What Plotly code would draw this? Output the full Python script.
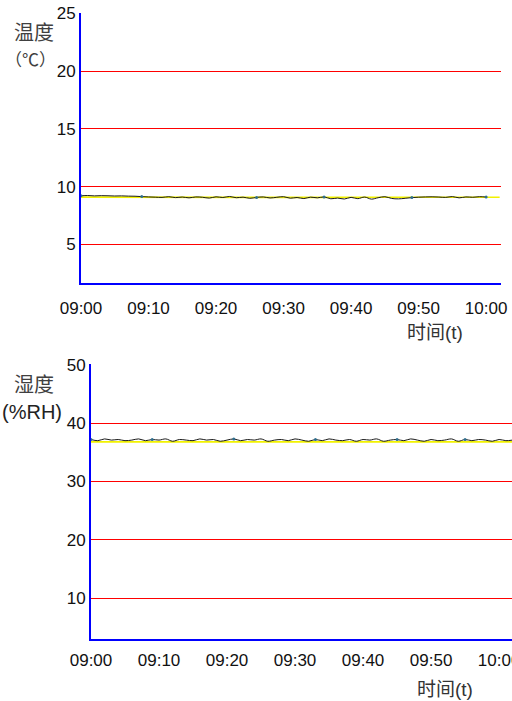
import plotly.graph_objects as go
import pandas as pd

# ---------------- data ----------------
temp_black = [9.22, 9.24, 9.21, 9.23, 9.22, 9.20, 9.21, 9.19, 9.18, 9.15,
              9.12, 9.10, 9.08, 9.14, 9.06, 9.11, 9.04, 9.12, 9.09, 9.02,
              9.13, 9.07, 9.16, 9.05, 9.10, 9.00, 9.08, 9.12, 9.03, 9.09,
              9.14, 9.01, 9.07, 8.98, 9.10, 9.04, 9.12, 8.96, 9.02, 8.94,
              9.08, 8.97, 9.11, 8.93, 9.05, 9.14, 8.99, 8.95, 9.00, 9.06,
              9.10, 9.12, 9.13, 9.11, 9.08, 9.15, 9.04, 9.12, 9.09, 9.14,
              9.11]
temp_yellow = [9.10, 9.09, 9.08, 9.08, 9.07, 9.07, 9.08, 9.08, 9.09, 9.09,
               9.10, 9.10, 9.09, 9.09]
temp_yellow_min = [0, 5, 10, 15, 20, 25, 30, 35, 40, 45, 50, 55, 60, 62]

hum_black = [37.2, 37.0, 37.3, 37.1, 37.2, 37.0, 37.1, 37.3, 37.0, 37.2,
             37.1, 37.3, 36.9, 37.2, 37.1, 37.0, 37.3, 37.1, 37.2, 36.9,
             37.1, 37.3, 37.0, 37.2, 37.1, 37.3, 36.9, 37.1, 37.2, 37.0,
             37.3, 37.1, 36.9, 37.2, 37.0, 37.3, 37.1, 37.0, 37.2, 36.9,
             37.2, 37.1, 37.3, 36.9, 37.1, 37.2, 37.0, 37.3, 37.1, 36.9,
             37.2, 37.0, 37.1, 37.3, 36.9, 37.2, 37.0, 37.2, 37.1, 36.9,
             37.2, 37.0, 37.1]
hum_yellow = [36.8, 36.8, 36.8, 36.7, 36.8, 36.8, 36.8, 36.7, 36.8, 36.8,
              36.8, 36.8, 36.8, 36.8]
hum_yellow_min = [0, 5, 10, 15, 20, 25, 30, 35, 40, 45, 50, 55, 60, 62]

temp_marker_idx = [0, 9, 26, 36, 49, 60]
hum_marker_idx = [0, 9, 21, 33, 45, 55]

temp_ticks = [5, 10, 15, 20, 25]
hum_ticks = [10, 20, 30, 40, 50]
time_ticks = ["09:00", "09:10", "09:20", "09:30", "09:40", "09:50", "10:00"]

# ---------------- helpers ----------------
DAY = "2020-01-01 "
start = pd.Timestamp(DAY + "09:00")
def minutes(m):
    return [start + pd.Timedelta(minutes=v) for v in m]

W, H = 512, 701
def px(x):
    return x / W
def py(y):
    return 1 - y / H

t_black = minutes(range(len(temp_black)))
h_black = minutes(range(len(hum_black)))
tick_vals = [pd.Timestamp(DAY + t) for t in time_ticks]

fig = go.Figure()

YELLOW = "#f2f200"
BLACK = "#1a1a1a"
TEAL = "#2f6f8f"

# top chart
fig.add_trace(go.Scatter(x=minutes(temp_yellow_min), y=temp_yellow, mode="lines",
                         line=dict(color=YELLOW, width=1.6), xaxis="x", yaxis="y",
                         hoverinfo="skip"))
fig.add_trace(go.Scatter(x=t_black, y=temp_black, mode="lines",
                         line=dict(color=BLACK, width=1, shape="spline"),
                         xaxis="x", yaxis="y"))
fig.add_trace(go.Scatter(x=[t_black[i] for i in temp_marker_idx],
                         y=[temp_black[i] for i in temp_marker_idx], mode="markers",
                         marker=dict(color=TEAL, size=3), xaxis="x", yaxis="y"))

# bottom chart
fig.add_trace(go.Scatter(x=minutes(hum_yellow_min), y=hum_yellow, mode="lines",
                         line=dict(color=YELLOW, width=1.6), xaxis="x2", yaxis="y2",
                         hoverinfo="skip"))
fig.add_trace(go.Scatter(x=h_black, y=hum_black, mode="lines",
                         line=dict(color=BLACK, width=1, shape="spline"),
                         xaxis="x2", yaxis="y2"))
fig.add_trace(go.Scatter(x=[h_black[i] for i in hum_marker_idx],
                         y=[hum_black[i] for i in hum_marker_idx], mode="markers",
                         marker=dict(color=TEAL, size=3), xaxis="x2", yaxis="y2"))

TICKFONT = dict(family="Liberation Sans, Arial, sans-serif", size=17, color="#111")

xcommon = dict(type="date", tickvals=tick_vals, ticktext=time_ticks, showgrid=False,
               zeroline=False, showline=True, linecolor="#0000ff", linewidth=2,
               ticks="", tickfont=TICKFONT, automargin=False,
               ticklabeloverflow="allow")
ycommon = dict(showgrid=True, gridcolor="#ff0000", gridwidth=1, zeroline=False,
               showline=True, linecolor="#0000ff", linewidth=2, ticks="",
               tickfont=TICKFONT, automargin=False)

fig.update_layout(
    width=W, height=H, margin=dict(l=0, r=0, t=0, b=0, autoexpand=False),
    paper_bgcolor="white", plot_bgcolor="white", showlegend=False,
    xaxis=dict(**xcommon, domain=[px(81), px(501)], anchor="y",
               range=[start, start + pd.Timedelta(minutes=62.2)], ticklabelstandoff=9),
    yaxis=dict(**ycommon, domain=[py(283), py(13)], anchor="x",
               range=[1.67, 25.04], tickvals=temp_ticks),
    xaxis2=dict(**xcommon, domain=[px(91), 1.0], anchor="y2",
                range=[start, start + pd.Timedelta(minutes=61.9)], ticklabelstandoff=5),
    yaxis2=dict(**ycommon, domain=[py(639), py(364)], anchor="x2",
                range=[2.98, 50.15], tickvals=hum_ticks),
)

CJK = "Noto Sans CJK SC, sans-serif"
def note(text, x, y, size, family=CJK, color="#404040"):
    fig.add_annotation(text=text, x=px(x), y=py(y), xref="paper", yref="paper",
                       showarrow=False, xanchor="center", yanchor="middle",
                       font=dict(family=family, size=size, color=color))

note("温度", 34, 31, 20)
note("（℃）", 30, 58, 17)
note("时间(t)", 435, 332, 19, family="Liberation Sans, " + CJK, color="#333")
note("湿度", 34, 383, 20)
note("(%RH)", 32, 412, 20, family="Liberation Sans, Arial, sans-serif", color="#222")
note("时间(t)", 445, 689, 19, family="Liberation Sans, " + CJK, color="#333")

fig.write_html("out.html",
               config={"displayModeBar": False},
               post_script="document.body.style.margin='0px';"
                           "document.body.style.overflow='hidden';")
